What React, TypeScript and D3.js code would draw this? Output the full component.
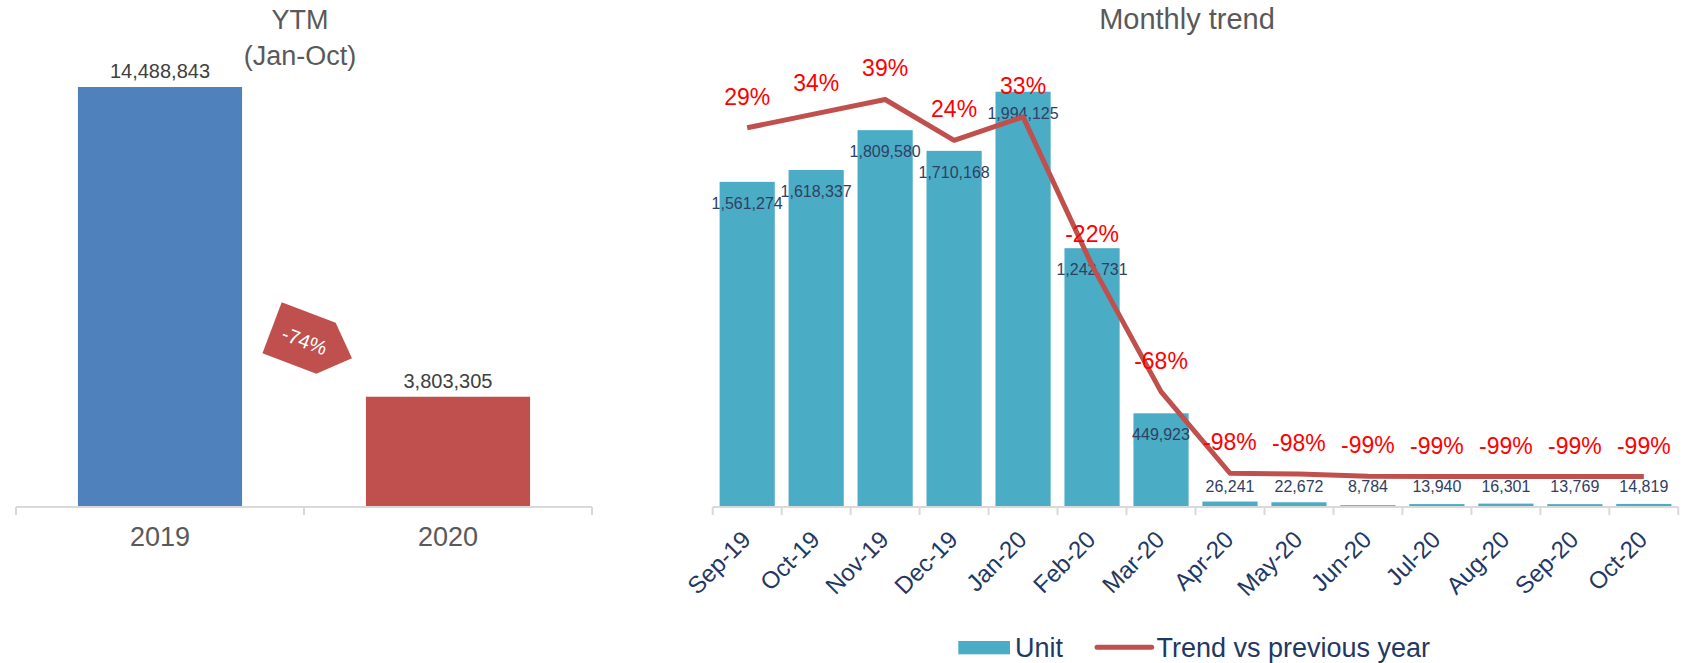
import React from 'react';
import * as d3 from 'd3';

// ---- Data ----
const ytdYears = ['2019', '2020'];
const ytdUnits = [14488843, 3803305];
const ytdChangeLabel = '-74%';
const ytdTitle = ['YTM', '(Jan-Oct)'];

const months = ['Sep-19', 'Oct-19', 'Nov-19', 'Dec-19', 'Jan-20', 'Feb-20', 'Mar-20', 'Apr-20', 'May-20', 'Jun-20', 'Jul-20', 'Aug-20', 'Sep-20', 'Oct-20'];
const units = [1561274, 1618337, 1809580, 1710168, 1994125, 1242731, 449923, 26241, 22672, 8784, 13940, 16301, 13769, 14819];
const trend = [0.29, 0.342, 0.394, 0.244, 0.33, -0.216, -0.68, -0.98, -0.983, -0.991, -0.992, -0.992, -0.992, -0.992];
const legendLabels = ['Unit', 'Trend vs previous year'];
const monthlyTitle = 'Monthly trend';

const FONT = "'Liberation Sans', Arial, Helvetica, sans-serif";
const W = 1683;
const H = 663;

export default function App() {
  // Left chart scales
  const xL = d3.scaleBand<string>().domain(ytdYears).range([16, 592]).paddingInner(0.43).paddingOuter(0.215);
  const yL = d3.scaleLinear().domain([0, d3.max(ytdUnits) as number]).range([507, 87]);
  const ytdColors = ['#4F81BD', '#C0504D'];
  const fmt = d3.format(',');

  // Right chart scales
  const xR = d3.scaleBand<string>().domain(months).range([712.7, 1678.3]).paddingInner(0.2).paddingOuter(0.1);
  const yR = d3.scaleLinear().domain([0, 2000000]).range([507, 90.5]);
  const yT = d3.scaleLinear().domain([-1, 0.5]).range([478.7, 70.65]);
  const step = xR.step();

  const line = d3.line<number>()
    .x((_, i) => (xR(months[i]) as number) + xR.bandwidth() / 2)
    .y((d) => yT(d));

  const pct = (v: number) => `${Math.round(v * 100)}%`;

  return (
    <svg width={W} height={H} style={{ position: 'absolute', left: 0, top: 0, background: '#fff' }} fontFamily={FONT}>
      {/* ---------- Left chart ---------- */}
      <text x={300} y={29} textAnchor="middle" fontSize={27} fill="#595959">{ytdTitle[0]}</text>
      <text x={300} y={65} textAnchor="middle" fontSize={27} fill="#595959">{ytdTitle[1]}</text>
      {ytdYears.map((yr, i) => (
        <g key={yr}>
          <rect x={xL(yr)} y={yL(ytdUnits[i])} width={xL.bandwidth()} height={yL(0) - yL(ytdUnits[i])} fill={ytdColors[i]} />
          <text x={(xL(yr) as number) + xL.bandwidth() / 2} y={yL(ytdUnits[i]) - 9} textAnchor="middle" fontSize={20} fill="#404040">{fmt(ytdUnits[i])}</text>
          <text x={(xL(yr) as number) + xL.bandwidth() / 2} y={546} textAnchor="middle" fontSize={27} fill="#595959">{yr}</text>
        </g>
      ))}
      <line x1={16} x2={592} y1={yL(0)} y2={yL(0)} stroke="#D9D9D9" strokeWidth={2} />
      {[0, 1, 2].map((k) => {
        const x = 16 + k * xL.step();
        return <line key={k} x1={x} x2={x} y1={yL(0)} y2={yL(0) + 8} stroke="#D9D9D9" strokeWidth={2} />;
      })}
      <g transform="translate(281.7,302.3) rotate(20.7)">
        <polygon points="0,0 57.7,0 85.5,27.5 57.7,54.7 0,54.5" fill="#C0504D" />
        <text x={35} y={28} dy="0.35em" textAnchor="middle" fontSize={20} fill="#FFFFFF">{ytdChangeLabel}</text>
      </g>

      {/* ---------- Right chart ---------- */}
      <text x={1187} y={29} textAnchor="middle" fontSize={29} fill="#595959">{monthlyTitle}</text>
      {months.map((m, i) => (
        <rect key={m} x={xR(m)} y={yR(units[i])} width={xR.bandwidth()} height={yR(0) - yR(units[i])} fill="#4BACC6" />
      ))}
      <line x1={712.7} x2={1678.3} y1={yR(0)} y2={yR(0)} stroke="#D9D9D9" strokeWidth={2} />
      {d3.range(months.length + 1).map((k) => {
        const x = 712.7 + k * step;
        return <line key={k} x1={x} x2={x} y1={yR(0)} y2={yR(0) + 8} stroke="#D9D9D9" strokeWidth={2} />;
      })}
      {months.map((m, i) => {
        const cx = (xR(m) as number) + xR.bandwidth() / 2;
        const top = yR(units[i]);
        const inside = yR(0) - top > 40;
        const y = inside ? top + 27 : yR(0) - 15.3;
        return (
          <text key={m} x={cx} y={y} textAnchor="middle" fontSize={16} fill="#2F4063">{fmt(units[i])}</text>
        );
      })}
      <path d={line(trend) as string} fill="none" stroke="#C0504D" strokeWidth={5} strokeLinejoin="round" />
      {months.map((m, i) => {
        const cx = (xR(m) as number) + xR.bandwidth() / 2;
        return (
          <text key={m} x={cx} y={yT(trend[i]) - 23} textAnchor="middle" fontSize={23} fill="#FF0000">{pct(trend[i])}</text>
        );
      })}
      {months.map((m) => {
        const cx = (xR(m) as number) + xR.bandwidth() / 2;
        return (
          <text key={m} transform={`translate(${cx + 5},${541}) rotate(-45)`} textAnchor="end" fontSize={24} fill="#1F3864">{m}</text>
        );
      })}

      {/* Legend */}
      <rect x={958.3} y={641} width={51.7} height={13.3} fill="#4BACC6" />
      <text x={1015} y={657} fontSize={27} fill="#1F3864">{legendLabels[0]}</text>
      <line x1={1097} x2={1151.7} y1={647.3} y2={647.3} stroke="#C0504D" strokeWidth={5} strokeLinecap="round" />
      <text x={1156.5} y={657} fontSize={27} fill="#1F3864">{legendLabels[1]}</text>
    </svg>
  );
}
